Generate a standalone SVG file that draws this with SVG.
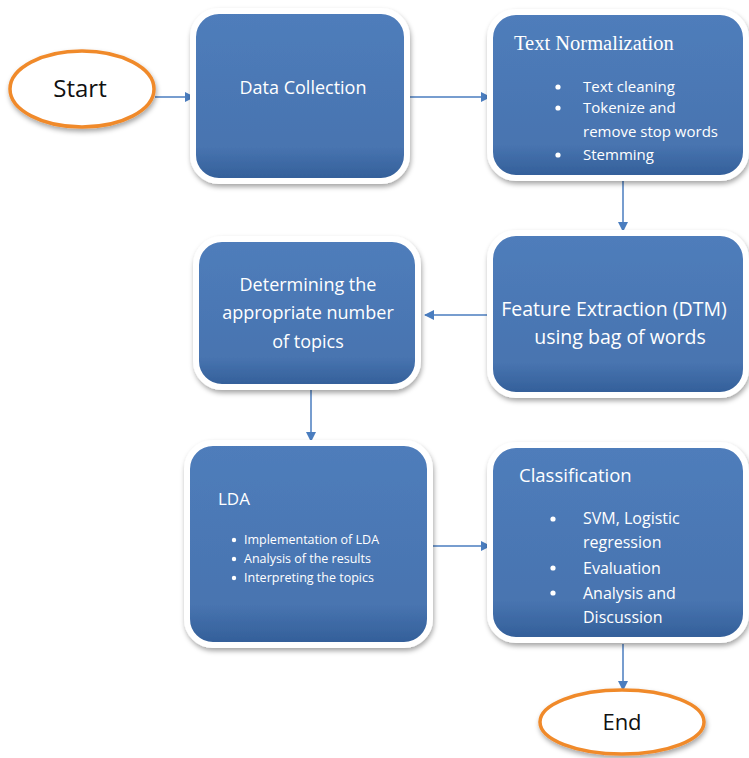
<svg xmlns="http://www.w3.org/2000/svg" width="749" height="758" viewBox="0 0 749 758">
<defs>
<linearGradient id="bg" x1="0" y1="0" x2="0" y2="1">
<stop offset="0" stop-color="#4f7dbb"/>
<stop offset="0.8" stop-color="#4874b0"/>
<stop offset="1" stop-color="#325e98"/>
</linearGradient>
<filter id="sh" x="-10%" y="-10%" width="120%" height="125%">
<feDropShadow dx="1" dy="3" stdDeviation="2.5" flood-color="#000" flood-opacity="0.35"/>
</filter>
<marker id="ah" markerWidth="10" markerHeight="10" refX="9" refY="5" orient="auto" markerUnits="userSpaceOnUse">
<path d="M0,0 L10,5 L0,10 Z" fill="#4a7dbf"/>
</marker>
</defs>
<style>
.box{fill:url(#bg);stroke:#fff;stroke-width:6;filter:url(#sh)}
.ell{fill:#fff;stroke:#f08a2c;stroke-width:3.5;filter:url(#sh)}
.t{font-family:"Open Sans","Liberation Sans",sans-serif;fill:#fff}
.tb{font-family:"Open Sans","Liberation Sans",sans-serif;fill:#111}
.c{text-anchor:middle}
.conn line{stroke:#4a7dbf;stroke-width:1.5;marker-end:url(#ah)}
.dot{fill:#fff}
</style>
<rect width="749" height="758" fill="#fff"/>
<g class="conn">
<line x1="155" y1="97" x2="194" y2="97"/>
<line x1="408" y1="97" x2="490" y2="97"/>
<line x1="623" y1="180" x2="623" y2="231"/>
<line x1="487" y1="315" x2="425" y2="315"/>
<line x1="311" y1="390" x2="311" y2="441"/>
<line x1="432" y1="546" x2="490" y2="546"/>
<line x1="623" y1="644" x2="623" y2="690"/>
</g>
<g id="start">
<ellipse class="ell" cx="82" cy="89" rx="72" ry="38"/>
<text class="tb c" x="80" y="97" font-size="24">Start</text>
</g>
<g id="data-collection">
<rect class="box" x="193" y="11" width="214" height="170" rx="26"/>
<text class="t c" x="303" y="94" font-size="18">Data Collection</text>
</g>
<g id="text-normalization">
<rect class="box" x="490" y="12" width="256" height="166" rx="26"/>
<text x="514" y="50" font-size="20.5" font-family="'Liberation Serif',serif" fill="#fff">Text Normalization</text>
<circle class="dot" cx="558" cy="87" r="2.6"/>
<circle class="dot" cx="558" cy="108" r="2.6"/>
<circle class="dot" cx="558" cy="155" r="2.6"/>
<g class="t" font-size="15">
<text x="583" y="92">Text cleaning</text>
<text x="583" y="113">Tokenize and</text>
<text x="583" y="137">remove stop words</text>
<text x="583" y="160">Stemming</text>
</g>
</g>
<g id="feature-extraction">
<rect class="box" x="490" y="233" width="256" height="162" rx="26"/>
<text class="t c" x="614" y="316" font-size="19.5">Feature Extraction (DTM)</text>
<text class="t c" x="620" y="344" font-size="19.5">using bag of words</text>
</g>
<g id="determining">
<rect class="box" x="196" y="239" width="222" height="148" rx="26"/>
<text class="t c" x="308" y="291" font-size="18">Determining the</text>
<text class="t c" x="308" y="319" font-size="18">appropriate number</text>
<text class="t c" x="308" y="348" font-size="18">of topics</text>
</g>
<g id="lda">
<rect class="box" x="187" y="443" width="243" height="202" rx="26"/>
<text class="t" x="218" y="505" font-size="17">LDA</text>
<circle class="dot" cx="234" cy="540" r="2.2"/>
<circle class="dot" cx="234" cy="559" r="2.2"/>
<circle class="dot" cx="234" cy="578" r="2.2"/>
<g class="t" font-size="12.5">
<text x="244" y="544">Implementation of LDA</text>
<text x="244" y="563">Analysis of the results</text>
<text x="244" y="582">Interpreting the topics</text>
</g>
</g>
<g id="classification">
<rect class="box" x="490" y="445" width="256" height="195" rx="26"/>
<text class="t" x="519" y="482" font-size="18.5">Classification</text>
<circle class="dot" cx="553" cy="519" r="2.6"/>
<circle class="dot" cx="553" cy="568" r="2.6"/>
<circle class="dot" cx="553" cy="593" r="2.6"/>
<g class="t" font-size="16">
<text x="583" y="524">SVM, Logistic</text>
<text x="583" y="548">regression</text>
<text x="583" y="574">Evaluation</text>
<text x="583" y="599">Analysis and</text>
<text x="583" y="623">Discussion</text>
</g>
</g>
<g id="end">
<ellipse class="ell" cx="622" cy="722" rx="82" ry="32"/>
<text class="tb c" x="622" y="730" font-size="22">End</text>
</g>
</svg>
